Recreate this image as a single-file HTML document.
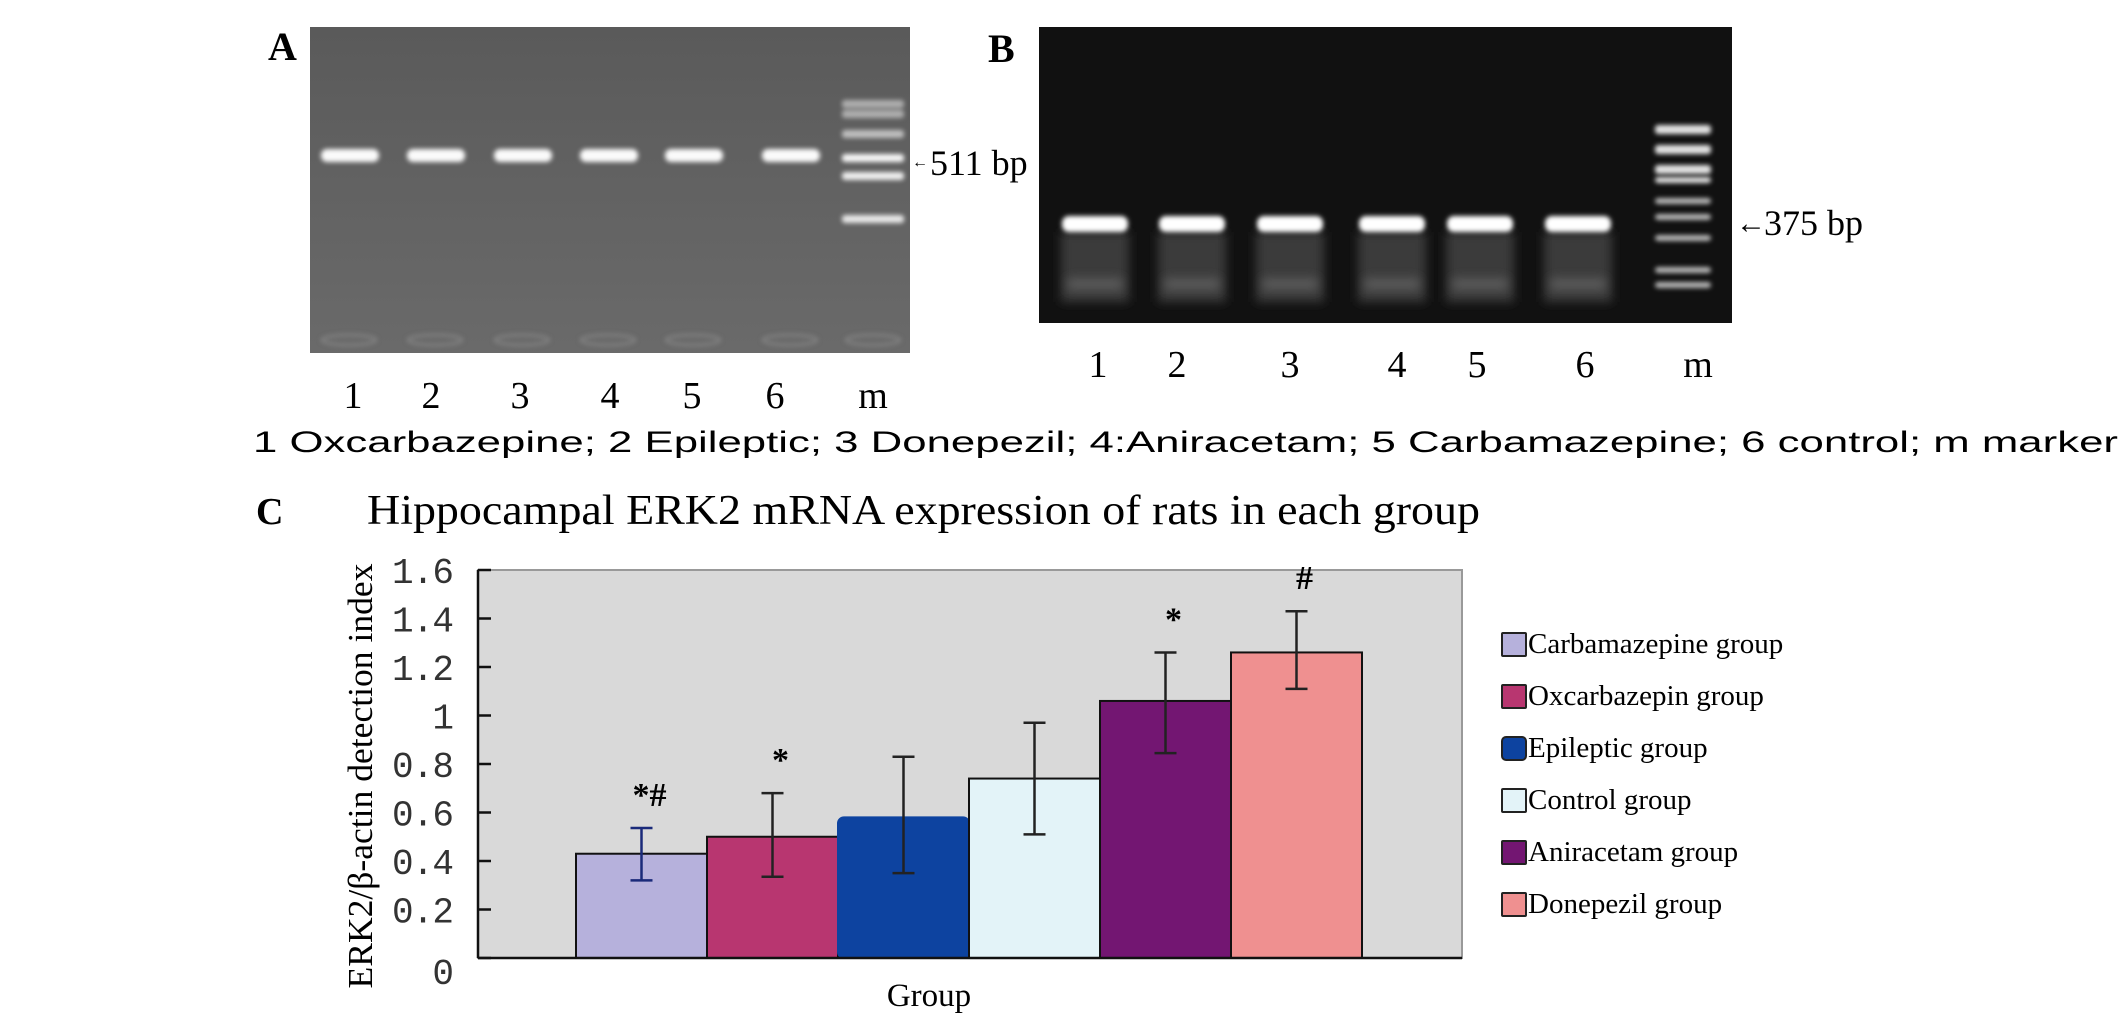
<!DOCTYPE html>
<html><head><meta charset="utf-8"><style>
html,body{margin:0;padding:0;background:#fff}
svg{display:block}
</style></head><body>
<svg width="2126" height="1018" viewBox="0 0 2126 1018" xmlns="http://www.w3.org/2000/svg">
<defs>
<filter id="blur" x="-20%" y="-100%" width="140%" height="300%"><feGaussianBlur stdDeviation="2.5"/></filter>
<filter id="blur2" x="-20%" y="-100%" width="140%" height="300%"><feGaussianBlur stdDeviation="5"/></filter>
<linearGradient id="gelA" x1="0" y1="0" x2="0" y2="1"><stop offset="0" stop-color="#5a5a5a"/><stop offset="1" stop-color="#6a6a6a"/></linearGradient>
</defs>

<g>
<text x="268" y="60" font-family="Liberation Serif, serif" font-size="40" font-weight="bold">A</text>
<rect x="310" y="27" width="600" height="326" fill="url(#gelA)"/>
<g id="gelAbands" filter="url(#blur)"></g>
<g id="gelAlabels" font-family="Liberation Serif, serif" font-size="38" text-anchor="middle"></g>
<text x="912" y="167" font-family="Liberation Serif, serif" font-size="16">←</text>
<text x="930" y="175" font-family="Liberation Serif, serif" font-size="36">511 bp</text>
</g>

<g>
<text x="988" y="62" font-family="Liberation Serif, serif" font-size="40" font-weight="bold">B</text>
<rect x="1039" y="27" width="693" height="296" fill="#111"/>
<g id="gelBbands"></g>
<g id="gelBlabels" font-family="Liberation Serif, serif" font-size="38" text-anchor="middle"></g>
<text x="1736" y="233" font-family="Liberation Serif, serif" font-size="30">←</text>
<text x="1764" y="235" font-family="Liberation Serif, serif" font-size="36">375 bp</text>
</g>

<text x="253" y="452" font-family="Liberation Sans, sans-serif" font-size="30" textLength="1865" lengthAdjust="spacingAndGlyphs">1 Oxcarbazepine;  2 Epileptic;  3 Donepezil; 4:Aniracetam; 5 Carbamazepine;   6 control; m marker</text>

<text x="256" y="524" font-family="Liberation Serif, serif" font-size="38" font-weight="bold">C</text>
<text x="367" y="524" font-family="Liberation Serif, serif" font-size="42" textLength="1113" lengthAdjust="spacingAndGlyphs">Hippocampal ERK2 mRNA expression of rats in each group</text>

<g id="chart">
<rect x="478" y="570" width="984" height="388" fill="#d9d9d9" stroke="#999" stroke-width="2"/>
<g id="bars"></g>
<g id="errs"></g>
<g id="yaxis"></g>
<text transform="translate(372,776) rotate(-90)" text-anchor="middle" font-family="Liberation Serif, serif" font-size="35" textLength="425" lengthAdjust="spacingAndGlyphs">ERK2/β-actin detection index</text>
<text x="929" y="1006" text-anchor="middle" font-family="Liberation Serif, serif" font-size="33">Group</text>
<g id="legend" font-family="Liberation Serif, serif" font-size="29"></g>
</g>
</svg>
<script>
const categories=["Carbamazepine group","Oxcarbazepin group","Epileptic group","Control group","Aniracetam group","Donepezil group"];
const values=[0.43,0.50,0.58,0.74,1.06,1.26];
const errUp=[0.106,0.18,0.25,0.23,0.20,0.17];
const errDown=[0.11,0.165,0.23,0.23,0.215,0.15];
const marks=["*#","*","","","*","#"];
const colors=["#b6b1dc","#b83670","#0d43a0","#e3f3f8","#731672","#ef9090"];
const yTicks=[0,0.2,0.4,0.6,0.8,1,1.2,1.4,1.6];
const yTickLabels=["0","0.2","0.4","0.6","0.8","1","1.2","1.4","1.6"];
const laneLabels=["1","2","3","4","5","6","m"];
const NS="http://www.w3.org/2000/svg";
function mk(tag,attrs,parent,text){const e=document.createElementNS(NS,tag);for(const k in attrs)e.setAttribute(k,attrs[k]);if(text!==undefined)e.textContent=text;parent.appendChild(e);return e;}
const y0=958,yTop=570,yMax=1.6;
function yS(v){return y0-(v/yMax)*(y0-yTop);}
const barStart=576,barW=131;
function xS(i){return barStart+i*barW;}
const bars=document.getElementById('bars'),errs=document.getElementById('errs');
values.forEach((v,i)=>{
 const r=mk('rect',{x:xS(i),y:yS(v),width:barW,height:y0-yS(v),fill:colors[i],stroke:i==2?'#0d43a0':'#111','stroke-width':2,rx:i==2?6:0},bars);
 
 
 const cx=xS(i)+barW/2, t=yS(v+errUp[i]), b=yS(v-errDown[i]);
 const ec=i==0?'#1a2a7a':'#222';
 const g=mk('g',{stroke:ec,'stroke-width':2.5},errs);
 
 
 mk('line',{x1:cx,y1:t,x2:cx,y2:b},g);
 mk('line',{x1:cx-11,y1:t,x2:cx+11,y2:t},g);
 mk('line',{x1:cx-11,y1:b,x2:cx+11,y2:b},g);
 if(marks[i]){const m=mk('text',{x:cx+8,y:t-22,'text-anchor':'middle','font-family':'Liberation Serif, serif','font-size':34,'font-weight':'bold'},errs,marks[i]);
 
 }
});
const ya=document.getElementById('yaxis');
mk('line',{x1:478,y1:570,x2:478,y2:958,stroke:'#111','stroke-width':2.5},ya);
mk('line',{x1:478,y1:958,x2:1462,y2:958,stroke:'#111','stroke-width':2.5},ya);
yTicks.forEach((v,i)=>{
 mk('line',{x1:478,y1:yS(v),x2:491,y2:yS(v),stroke:'#111','stroke-width':2.5},ya);
 const lab=yTickLabels[i];
 const attrs={x:454,y:yS(v)+(i==0?26:13),'text-anchor':'end','font-family':'Liberation Mono, monospace','font-size':36,fill:'#333'};
 if(lab.length>1){attrs.textLength=62;attrs.lengthAdjust='spacing';}
 const t=mk('text',attrs,ya,lab);
 
 
});
const lg=document.getElementById('legend');
categories.forEach((c,i)=>{
 const y=633+i*52;
 const r=mk('rect',{x:1502,y:y,width:24,height:23,fill:colors[i],stroke:'#222','stroke-width':2,rx:i==2?4:1},lg);
 
 
 const t=mk('text',{x:1528,y:y+20},lg,c);
 
 
});
const gA=document.getElementById('gelAbands');
const laneA=[349,435,522,608,693,790];
laneA.forEach(x=>{mk('rect',{x:x-28,y:149,width:58,height:13,rx:6,fill:'#fafafa'},gA);
 mk('ellipse',{cx:x,cy:340,rx:27,ry:5,fill:'none',stroke:'#8a8a8a','stroke-width':2},gA);});
[[103,0.5],[113,0.5],[133,0.6],[157,0.95],[175,0.9],[218,0.85]].forEach(m=>mk('rect',{x:842,y:m[0]-3,width:62,height:8,rx:3,fill:'#fff',opacity:m[1]},gA));
mk('ellipse',{cx:873,cy:340,rx:27,ry:5,fill:'none',stroke:'#8a8a8a','stroke-width':2},gA);
const gAl=document.getElementById('gelAlabels');
const laneAX=[353,431,520,610,692,775,873];
laneLabels.forEach((l,i)=>{const t=mk('text',{x:laneAX[i],y:408},gAl,l);
 
 });
const gB=document.getElementById('gelBbands');
const laneB=[1095,1192,1290,1392,1480,1578];
laneB.forEach(x=>{
 mk('rect',{x:x-34,y:232,width:68,height:70,fill:'#3a3a3a',filter:'url(#blur2)'},gB);
 mk('rect',{x:x-28,y:278,width:56,height:12,rx:5,fill:'#5a5a5a',filter:'url(#blur2)'},gB);
 mk('rect',{x:x-33,y:216,width:66,height:16,rx:7,fill:'#fff',filter:'url(#blur)'},gB);
});
[128,148,168,180,201,217,238,270,285].forEach((y,i)=>mk('rect',{x:1655,y:y-3,width:56,height:i<3?9:6,rx:3,fill:'#eee',opacity:i<4?0.95:0.75,filter:'url(#blur)'},gB));
const gBl=document.getElementById('gelBlabels');
const laneBX=[1098,1177,1290,1397,1477,1585,1698];
laneLabels.forEach((l,i)=>{const t=mk('text',{x:laneBX[i],y:377},gBl,l);
 
 });
</script>
</body></html>
